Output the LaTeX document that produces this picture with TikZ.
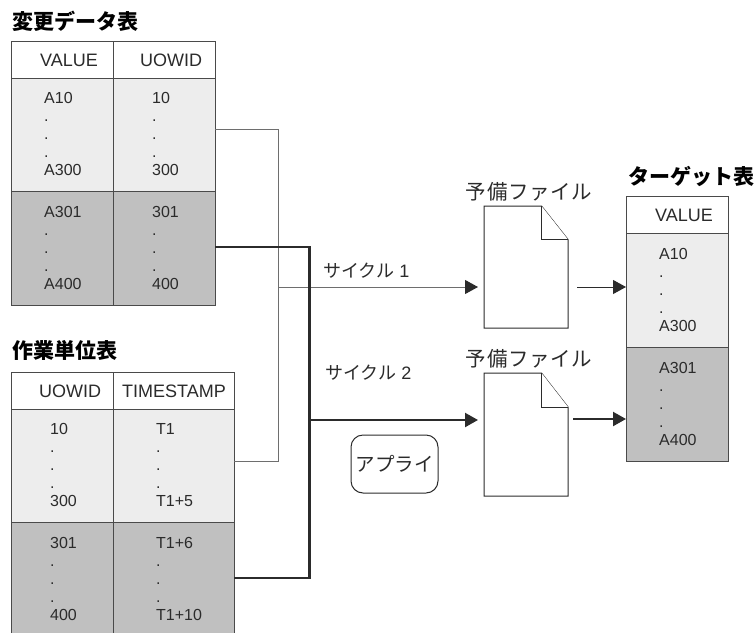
\documentclass[tikz,border=0pt]{standalone}
\usepackage{fontspec}
\setmainfont{Liberation Sans}
\newfontfamily\cjk{Noto Sans CJK JP}
\usetikzlibrary{arrows.meta}
\definecolor{lightrow}{HTML}{EDEDED}
\definecolor{darkrow}{HTML}{C0C0C0}
\definecolor{ink}{HTML}{2B2B2B}
\definecolor{edgegray}{HTML}{4A4A4A}
\definecolor{thingray}{HTML}{6E6E6E}
\tikzset{
  x=1pt,y=-1pt,
  cellbox/.style={draw=edgegray,line width=1pt,anchor=north west,inner sep=0pt,outer sep=0pt},
  headtext/.style={anchor=base west,inner sep=0pt,text=ink,font=\fontsize{18}{18}\selectfont},
  bodytext/.style={anchor=north west,inner sep=0pt,text=ink,align=left,font=\fontsize{16}{18}\selectfont},
  titletext/.style={anchor=base west,inner sep=0pt,text=black,font=\cjk\bfseries\fontsize{21}{21}\selectfont},
  sparetext/.style={anchor=base,inner sep=0pt,text=ink,font=\cjk\fontsize{20.5}{21}\selectfont},
  cycletext/.style={anchor=base west,inner sep=0pt,text=ink,font=\fontsize{18}{18}\selectfont},
  thinline/.style={draw=thingray,line width=1pt},
  thickline/.style={draw=ink,line width=2.2pt},
  thinarrow/.style={draw=thingray,line width=1pt,-{Triangle[length=13pt,width=14pt,color=ink]}},
  blackarrow/.style={draw=ink,line width=1pt,-{Triangle[length=13pt,width=14pt,color=ink]}},
  thickarrow/.style={draw=ink,line width=2.2pt,-{Triangle[length=13pt,width=14pt,color=ink]}},
  filebody/.style={draw=ink,line width=1pt,fill=white,line join=miter},
}
\newcommand{\cellat}[6]{% name, x, y, w, h, fill
  \node[cellbox,fill=#6,minimum width=#4pt,minimum height=#5pt] (#1) at (#2,#3) {};}
\newcommand{\spacedjp}[1]{{\addfontfeatures{LetterSpace=3}#1}}
\begin{document}
\begin{tikzpicture}
\useasboundingbox (0,0) rectangle (754,632);
\begin{scope}
\clip (0,0) rectangle (754,632);
% change data table
\cellat{aha}{11}{41}{102}{37}{white}
\cellat{ahb}{113}{41}{102}{37}{white}
\cellat{ala}{11}{78}{102}{113}{lightrow}
\cellat{alb}{113}{78}{102}{113}{lightrow}
\cellat{ada}{11}{191}{102}{114}{darkrow}
\cellat{adb}{113}{191}{102}{114}{darkrow}
% unit of work table
\cellat{bha}{11}{372}{102}{37}{white}
\cellat{bhb}{113}{372}{121}{37}{white}
\cellat{bla}{11}{409}{102}{113}{lightrow}
\cellat{blb}{113}{409}{121}{113}{lightrow}
\cellat{bda}{11}{522}{102}{116}{darkrow}
\cellat{bdb}{113}{522}{121}{116}{darkrow}
\end{scope}
% target table
\cellat{cha}{626}{196}{102}{37}{white}
\cellat{cla}{626}{233}{102}{114}{lightrow}
\cellat{cda}{626}{347}{102}{114}{darkrow}
% titles
\node[titletext] (t1) at (12,29) {変更データ表};
\node[titletext] (t2) at (12,358) {作業単位表};
\node[titletext] (t3) at (628,184) {ターゲット表};
% header text
\node[headtext] (h1) at (40,66) {VALUE};
\node[headtext] (h2) at (140,66) {UOWID};
\node[headtext] (h3) at (39,397) {UOWID};
\node[headtext] (h4) at (122,397) {TIMESTAMP};
\node[headtext] (h5) at (655,221) {VALUE};
% body text
\node[bodytext] (b1) at (44,92.5) {A10\\.\\.\\.\\A300};
\node[bodytext] (b2) at (152,92.5) {10\\.\\.\\.\\300};
\node[bodytext] (b3) at (44,206.5) {A301\\.\\.\\.\\A400};
\node[bodytext] (b4) at (152,206.5) {301\\.\\.\\.\\400};
\node[bodytext] (b5) at (50,423.5) {10\\.\\.\\.\\300};
\node[bodytext] (b6) at (156,423.5) {T1\\.\\.\\.\\T1+5};
\node[bodytext] (b7) at (50,537.5) {301\\.\\.\\.\\400};
\node[bodytext] (b8) at (156,537.5) {T1+6\\.\\.\\.\\T1+10};
\node[bodytext] (b9) at (659,248.5) {A10\\.\\.\\.\\A300};
\node[bodytext] (b10) at (659,362.5) {A301\\.\\.\\.\\A400};
% files
\node[sparetext] (s1) at (529,199) {\spacedjp{予備ファイル}};
\node[sparetext] (s2) at (529,366) {\spacedjp{予備ファイル}};
\node[inner sep=0pt,outer sep=0pt,minimum width=84pt,minimum height=122pt,anchor=north west] (f1) at (484,206) {};
\node[inner sep=0pt,outer sep=0pt,minimum width=84pt,minimum height=123pt,anchor=north west] (f2) at (484,373) {};
\draw[filebody] (f1.north west) -- (541.5,206) -- (f1.east |- 0,239.5) -- (f1.south east) -- (f1.south west) -- cycle;
\draw[filebody] (541.5,206) -- (541.5,239.5) -- (f1.east |- 0,239.5);
\draw[filebody] (f2.north west) -- (541.5,373) -- (f2.east |- 0,407) -- (f2.south east) -- (f2.south west) -- cycle;
\draw[filebody] (541.5,373) -- (541.5,407) -- (f2.east |- 0,407);
% cycle labels
\node[cycletext] (c1) at (323,277) {{\cjk サイクル} 1};
\node[cycletext] (c2) at (325,379) {{\cjk サイクル} 2};
% apply box
\node[draw=ink,line width=1pt,rounded corners=12pt,minimum width=87pt,minimum height=58pt,inner sep=0pt,text=ink,font=\cjk\fontsize{19.5}{20}\selectfont] (ap) at (394.5,464) {アプライ};
% connector junctions
\coordinate (jt1) at (278,129);
\coordinate (jt2) at (278,461);
\coordinate (jt3) at (278,287);
\coordinate (jb1) at (309.5,247);
\coordinate (jb2) at (309.5,578);
\coordinate (jb3) at (309.5,420);
\coordinate (tipa) at (478,287);
\coordinate (tipb) at (478,420);
% thin path
\draw[thinline] (alb.east |- jt1) -- (jt1) -- (jt2) -- (blb.east |- jt2);
\draw[thinarrow] (jt3) -- (tipa);
\draw[blackarrow] (577,287) -- (cla.west |- tipa);
% thick path
\draw[thickline,line join=miter] (adb.east |- jb1) -- (jb1) -- (jb2) -- (bdb.east |- jb2);
\draw[thickarrow] (jb3) -- (tipb);
\draw[thickarrow] (573,419) -- (cda.west |- 0,419);
\end{tikzpicture}
\end{document}
